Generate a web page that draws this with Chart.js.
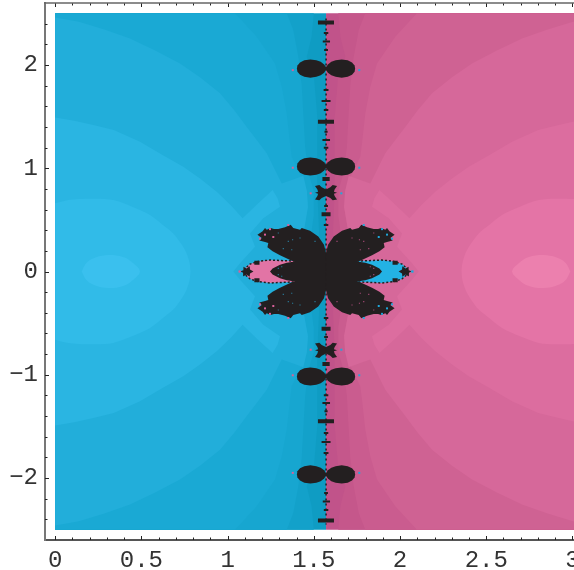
<!DOCTYPE html>
<html><head><meta charset="utf-8">
<style>html,body{margin:0;padding:0;background:#fff;overflow:hidden}#w{width:574px;height:570px;position:relative}</style>
<script src="https://cdn.jsdelivr.net/npm/chart.js@4"></script></head>
<body><div id="w"><canvas id="c" width="574" height="570"></canvas></div>
<script>
// axis values
const xTickValues=[0,0.5,1,1.5,2,2.5,3];
const xTickLabels=['0','0.5','1','1.5','2','2.5','3'];
const yTickValues=[-2,-1,0,1,2];
const yTickLabels=['\u22122','\u22121','0','1','2'];
const xMinorTicks=[0.1,0.2,0.3,0.4,0.6,0.7,0.8,0.9,1.1,1.2,1.3,1.4,1.6,1.7,1.8,1.9,2.1,2.2,2.3,2.4,2.6,2.7,2.8,2.9];
const yMinorTicks=[-2.4,-2.2,-1.8,-1.6,-1.4,-1.2,-0.8,-0.6,-0.4,-0.2,0.2,0.4,0.6,0.8,1.2,1.4,1.6,1.8,2.2,2.4];
// contour levels, upper-left quadrant (x, y)
const levelE3=[[0,2.5],[1.5,2.5],[1.487,2.27],[1.459,2.08],[1.5,1.9],[1.52,1.5],[1.52,1.2],[1.52,0.8],[1.53,0.4],[1.53,0]];
const levelE2=[[0,2.5],[1.343,2.5],[1.381,2.338],[1.41,2.08],[1.43,1.8],[1.44,1.5],[1.45,1.2],[1.47,0.95],[1.5,0.78],[1.5,0.55],[1.48,0.3],[1.48,0]];
const levelE1=[[0,2.5],[1.043,2.5],[1.105,2.39],[1.169,2.274],[1.275,2.015],[1.314,1.789],[1.343,1.531],[1.362,1.241],[1.372,1.112],[1.42,0.95],[1.46,0.78],[1.466,0.624],[1.443,0.4],[1.44,0]];
const levelA=[[0,2.5],[0,2.46],[0.138,2.418],[0.29,2.34],[0.434,2.257],[0.58,2.14],[0.724,2.015],[0.84,1.88],[0.956,1.725],[1.04,1.56],[1.11,1.402],[1.17,1.27],[1.227,1.144],[1.27,1],[1.314,0.853],[1.38,0.89],[1.439,0.928],[1.46,0.78],[1.466,0.624],[1.443,0.4],[1.44,0]];
const levelB=[[0,1.492],[0.11,1.46],[0.221,1.418],[0.34,1.37],[0.492,1.257],[0.62,1.13],[0.743,1.015],[0.84,0.9],[0.937,0.773],[1.02,0.64],[1.087,0.515],[1.17,0.65],[1.261,0.789],[1.29,0.71],[1.304,0.628],[1.207,0.515],[1.13,0.369],[1.159,0.24],[1.072,0.079],[1.033,0]];
const levelC=[[0,0.66],[0.07,0.69],[0.138,0.702],[0.24,0.705],[0.337,0.692],[0.45,0.625],[0.55,0.547],[0.625,0.45],[0.685,0.369],[0.73,0.27],[0.762,0.176],[0.78,0.08],[0.785,0]];
const levelD=[[0.154,0],[0.175,0.07],[0.202,0.111],[0.26,0.15],[0.337,0.16],[0.41,0.13],[0.453,0.079],[0.485,0.03],[0.492,0]];
const blueLevels=['#0F9CC3','#13A1CA','#17A6D0','#1AA9D4','#22AEDA','#2AB5E2','#31BBE8','#3AC0EE'];
const pinkLevels=['#C1538A','#C5578B','#CA5C8F','#CF6293','#D6689A','#DC6D9F','#E474A6','#EC80AE'];
// black set
const ink='#231F20';
const butterfly=[[1.571,0.179],[1.559,0.26],[1.526,0.34],[1.478,0.395],[1.43,0.421],[1.42,0.405],[1.381,0.421],[1.366,0.453],[1.333,0.428],[1.294,0.411],[1.269,0.411],[1.25,0.421],[1.227,0.405],[1.217,0.421],[1.203,0.389],[1.173,0.357],[1.198,0.324],[1.184,0.299],[1.217,0.286],[1.236,0.276],[1.231,0.234],[1.261,0.195],[1.304,0.157],[1.372,0.105],[1.391,0.098],[1.343,0.085],[1.304,0.066],[1.261,0.03],[1.246,0]];
const eye=[[1.391,0.101],[1.323,0.105],[1.246,0.111],[1.178,0.098],[1.13,0.072],[1.105,0.035],[1.091,0]];
const eyeBud=[[1.075,0],[1.09,0.012],[1.092,0.045],[1.11,0.03],[1.128,0.05],[1.13,0.02],[1.15,0]];
const budLobe=[[1.571,0.012],[1.56,0.04],[1.54,0.065],[1.515,0.08],[1.48,0.088],[1.445,0.08],[1.42,0.06],[1.405,0.03],[1.402,0]];
const budCentres=[1.965,1.017];
const miniLobe=[[1.571,0.032],[1.546,0.052],[1.532,0.074],[1.507,0.065],[1.521,0.032],[1.525,0.01],[1.507,0]];
const miniCentre=0.763;
const thickMarks=[[1.524,1.617,2.41],[1.524,1.617,1.45],[1.545,1.597,0.554],[1.55,1.592,0.895],[1.155,1.185,0.085]];
const thinMarks=[[1.558,1.584,2.31],[1.552,1.594,2.228],[1.56,1.582,2.144],[1.557,1.585,1.757],[1.545,1.597,1.65],[1.558,1.584,1.563],[1.562,1.58,1.353],[1.55,1.594,1.273],[1.558,1.584,1.198],[1.558,1.584,0.45],[1.56,1.582,0.634]];
const spineLine=[[1.571,2.45],[1.571,-2.45]];
const speckles=[[1.352,0.292],[1.377,0.308],[1.42,0.324],[1.507,0.292],[1.323,0.221],[1.372,0.211],[1.294,0.373],[1.294,0.03],[1.314,0.046]];
const fringe=[[1.217,0.357],[1.188,0.318],[1.265,0.334],[1.352,0.45],[1.246,0.41],[1.378,1.95],[1.378,1.005],[1.482,0.757],[1.07,0]];

const pts=a=>a.map(p=>({x:p[0],y:p[1]}));
const flipY=a=>a.concat(a.slice().reverse().map(p=>[p[0],-p[1]]));
const flipX=a=>a.map(p=>[Math.PI-p[0],p[1]]);
const shift=(a,c)=>a.map(p=>[p[0],p[1]+c]);
const both=a=>[a,flipX(a)];
const ds=[];
const poly=(a,color,extra)=>ds.push(Object.assign({data:pts(a),showLine:true,fill:'shape',backgroundColor:color,borderWidth:0,pointRadius:0,tension:0},extra||{}));
const stroke=(a,color,w,extra)=>ds.push(Object.assign({data:pts(a),showLine:true,fill:false,borderColor:color,borderWidth:w,pointRadius:0,tension:0},extra||{}));
const dots=(a,color,r)=>ds.push({data:pts(a),showLine:false,pointStyle:'rect',pointRadius:r,pointBackgroundColor:color,pointBorderWidth:0});

const halfRect=[[0,2.5],[1.5708,2.5],[1.5708,-2.5],[0,-2.5]];
const levelShapes=[halfRect,flipY(levelE3),flipY(levelE2),flipY(levelE1),flipY(levelA),flipY(levelB),flipY(levelC),flipY(levelD)];
levelShapes.forEach((s,i)=>{const t=i>=6?0.3:0;poly(s,blueLevels[i],{tension:t});poly(flipX(s),pinkLevels[i],{tension:t});});
// eyes
poly(flipY(eye),'#E274A5',{borderColor:ink,borderWidth:1.5,borderDash:[2,2]});
poly(flipX(flipY(eye)),'#23B2E4',{borderColor:ink,borderWidth:1.5,borderDash:[2,2]});
// black shapes
both(flipY(butterfly)).forEach(s=>poly(s,ink));
both(flipY(eyeBud)).forEach(s=>poly(s,ink));
budCentres.concat(budCentres.map(v=>-v)).forEach(c=>both(shift(flipY(budLobe),c)).forEach(s=>poly(s,ink)));
[miniCentre,-miniCentre].forEach(c=>both(shift(flipY(miniLobe),c)).forEach(s=>poly(s,ink)));
const marks=m=>{const o=[];m.forEach(r=>{[r[2],-r[2]].forEach(y=>{o.push([r[0],y],[r[1],y],[NaN,NaN]);});});return o;};
stroke(marks(thickMarks),ink,4,{spanGaps:false});
stroke(flipX(marks(thickMarks.slice(4))),ink,4,{spanGaps:false});
stroke(marks(thinMarks),ink,2,{spanGaps:false});
stroke(spineLine,ink,1.5,{borderDash:[2,3]});
const sp=flipY(speckles);
dots(sp,'#2A7F9F',0.8);dots(flipX(sp),'#A84A78',0.8);
const fr=flipY(fringe);
dots(fr,'#D8609A',1.4);dots(flipX(fr),'#1FA8DC',1.4);

ds.forEach((d,i)=>{d.order=ds.length-i;d.label='s'+i;});

const tickMarks={id:'tickMarks',afterDraw(chart){
  const c=chart.ctx,a=chart.chartArea,x=chart.scales.x,y=chart.scales.y;
  c.save();c.lineWidth=1;c.strokeStyle='#222';
  const seg=(x1,y1,x2,y2)=>{c.beginPath();c.moveTo(x1,y1);c.lineTo(x2,y2);c.stroke();};
  xTickValues.forEach(v=>{const p=Math.round(x.getPixelForValue(v))+.5;seg(p,a.bottom,p,a.bottom-4);seg(p,a.top,p,a.top+4);});
  xMinorTicks.forEach(v=>{const p=Math.round(x.getPixelForValue(v))+.5;seg(p,a.bottom,p,a.bottom-2.5);seg(p,a.top,p,a.top+2.5);});
  yTickValues.forEach(v=>{const p=Math.round(y.getPixelForValue(v))+.5;seg(a.left,p,a.left+4,p);});
  yMinorTicks.forEach(v=>{const p=Math.round(y.getPixelForValue(v))+.5;seg(a.left,p,a.left+2.5,p);});
  c.strokeStyle='#666';c.lineWidth=1.5;seg(a.left-1,a.top,a.right,a.top);
  c.restore();
}};
const font={family:'"Liberation Mono"',size:24};
const noPad=()=>({left:0,right:0,top:0,bottom:0});
new Chart(document.getElementById('c'),{type:'scatter',data:{datasets:ds},plugins:[tickMarks],options:{
  responsive:false,animation:false,
  layout:{autoPadding:false,padding:{top:3,left:0,right:0,bottom:0}},
  plugins:{legend:{display:false},tooltip:{enabled:false},title:{display:false}},
  scales:{
    x:{type:'linear',min:-0.059,max:3.009,grid:{display:false,drawTicks:false},border:{display:true,color:'#555',width:2},
      afterBuildTicks(s){s.ticks=xTickValues.map(v=>({value:v}));},
      afterFit(s){s.height=30;s.paddingLeft=0;s.paddingRight=0;s.getPadding=noPad;},
      ticks:{autoSkip:false,maxRotation:0,color:'#333',font,padding:6,callback:(v,i)=>xTickLabels[i]}},
    y:{type:'linear',min:-2.6,max:2.6,grid:{display:false,drawTicks:false},border:{display:true,color:'#777',width:2},
      afterBuildTicks(s){s.ticks=yTickValues.map(v=>({value:v}));},
      afterFit(s){s.width=45;s.paddingTop=0;s.paddingBottom=0;s.getPadding=noPad;},
      ticks:{autoSkip:false,color:'#333',font,padding:7,callback:(v,i)=>yTickLabels[i]}}
  }}});
</script></body></html>
